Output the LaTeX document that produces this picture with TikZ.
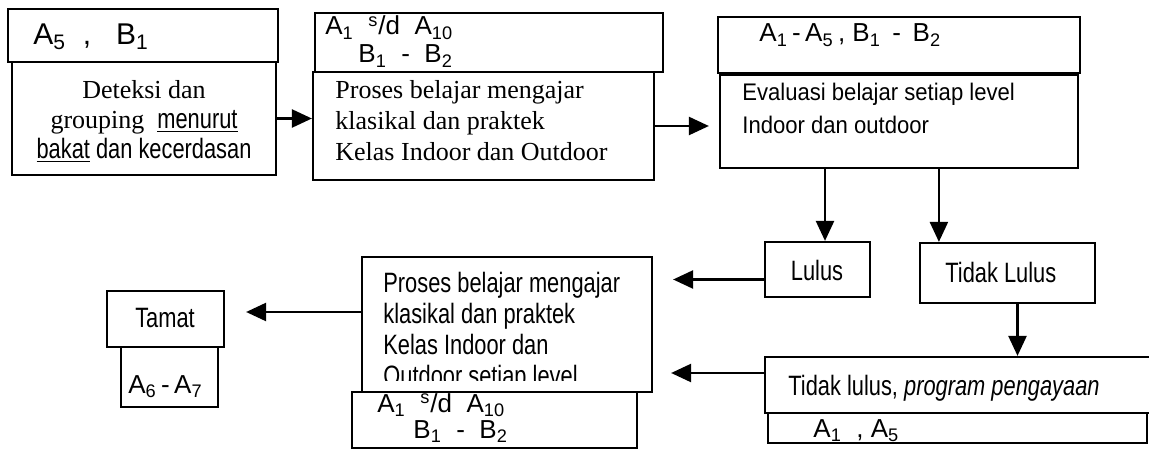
\documentclass[tikz,border=0pt]{standalone}
\usepackage{fontspec}
\setmainfont{Liberation Serif}
\setsansfont{Liberation Sans}
\newfontfamily\narsans{Liberation Sans}[FakeStretch=0.78]
\newfontfamily\evsans{Liberation Sans}[FakeStretch=0.92]
\newfontfamily\handfont{Liberation Sans}
\usetikzlibrary{arrows.meta,fit}
\newcommand\myNar{\narsans\fontsize{14}{15}\selectfont}
\begin{document}
\begin{tikzpicture}[x=0.5pt,y=-0.5pt,
  boxs/.style={draw,line width=1.1pt,inner sep=0pt},
  arr/.style={line width=1.2pt,-{Triangle[length=10pt,width=9pt]}},
  lbl/.style={inner sep=0pt,font=\handfont\fontsize{13}{15}\selectfont},
  txt/.style={inner sep=0pt,align=left}]
\clip (0,0) rectangle (1149,454);
% boxes
\node[boxs,fit={(8,9)(278,62)}] (b1lab) {};
\node[boxs,fit={(12,62)(276,175)}] (b1) {};
\node[boxs,fit={(315,13)(663,72)}] (b2lab) {};
\node[boxs,fit={(313,72)(654,180)}] (b2) {};
\node[boxs,fit={(718,17)(1080,73)}] (b3lab) {};
\node[boxs,fit={(720,75)(1078,168)}] (b3) {};
\node[boxs,fit={(765,242)(870,297)}] (lulus) {};
\node[boxs,fit={(920,243)(1095,303)}] (tl) {};
\node[boxs,fit={(765,357)(1170,413)}] (tlp) {};
\node[boxs,fit={(768,413)(1147,443)}] (tlplab) {};
\node[boxs,fit={(362,257)(652,392)}] (mid) {};
\node[boxs,fit={(352,392)(637,448)}] (midlab) {};
\node[boxs,fit={(107,291)(224,347)}] (tamat) {};
\node[boxs,fit={(121,347)(218,407)}] (tamatlab) {};
% texts
\node[txt,align=center,anchor=north,font=\fontsize{13}{15}\selectfont] (t1) at (144,80)
  {Deteksi dan\\grouping\ \ {\myNar\underline{menurut}}\\{\myNar\underline{bakat} dan kecerdasan}};
\node[txt,anchor=north west,font=\fontsize{13}{15.5}\selectfont] (t2) at (335,80)
  {Proses belajar mengajar\\klasikal dan praktek\\Kelas Indoor dan Outdoor};
\node[txt,anchor=north west,font=\evsans\fontsize{12}{16.5}\selectfont] (t3) at (742,83)
  {Evaluasi belajar setiap level\\Indoor dan outdoor};
\begin{scope}
\clip (362,257) rectangle (652,380);
\node[txt,anchor=north west,font=\narsans\fontsize{14}{15.5}\selectfont] (t4) at (383,272)
  {Proses belajar mengajar\\klasikal dan praktek\\Kelas Indoor dan\\Outdoor setiap level};
\end{scope}
\node[inner sep=0pt,font=\myNar] (t5) at (165,318) {Tamat};
\node[inner sep=0pt,font=\myNar] (t6) at (817,270) {Lulus};
\node[inner sep=0pt,anchor=west,font=\myNar] (t7) at (945,272) {Tidak Lulus};
\node[inner sep=0pt,anchor=base west,font=\myNar] (t8) at (788,395) {Tidak lulus, \textit{program pengayaan}};
% handwritten labels
\node[lbl,anchor=base west,font=\handfont\fontsize{15}{17}\selectfont] (l1) at (33,45) {A\textsubscript{5}\ \ ,\ \ \ B\textsubscript{1}};
\node[lbl,anchor=base west] (l2a) at (325,35) {A\textsubscript{1}\ \ \textsuperscript{s}/d\ \ A\textsubscript{10}};
\node[lbl,anchor=base west] (l2b) at (358,63) {B\textsubscript{1}\ \ -\ \ B\textsubscript{2}};
\node[lbl,anchor=base west] (l3) at (759,42) {A\textsubscript{1}\,-\,A\textsubscript{5}\,,\ B\textsubscript{1}\ \,-\ \,B\textsubscript{2}};
\node[lbl,anchor=base west] (l4a) at (377,412) {A\textsubscript{1}\ \ \textsuperscript{s}/d\ \ A\textsubscript{10}};
\node[lbl,anchor=base west] (l4b) at (413,438) {B\textsubscript{1}\ \ -\ \ B\textsubscript{2}};
\node[lbl,anchor=base west] (l5) at (128,393) {A\textsubscript{6}\,-\,A\textsubscript{7}};
\node[lbl,anchor=base west] (l6) at (813,437) {A\textsubscript{1}\ \ ,\ A\textsubscript{5}};
% arrows
\draw[arr] (b1.east) -- (b1.east -| b2.west);
\draw[arr,shorten >=5pt] (b2.east) -- (b2.east -| b3.west);
\draw[arr] ([xshift=3.75pt]lulus.north |- b3.south) -- ([xshift=3.75pt]lulus.north);
\draw[arr] ([xshift=10pt]tl.north west |- b3.south) -- ([xshift=10pt]tl.north west);
\draw[arr] ([xshift=5pt]tl.south) -- ([xshift=5pt]tl.south |- tlp.north);
\draw[arr,shorten >=10pt] ([yshift=-5pt]lulus.west) -- ([yshift=-5pt]lulus.west -| mid.east);
\draw[arr,shorten >=9pt] ([yshift=6pt]tlp.west) -- ([yshift=6pt]tlp.west -| mid.east);
\draw[arr,shorten >=10.5pt] ([yshift=6.25pt]mid.west) -- ([yshift=6.25pt]mid.west -| tamat.east);
\end{tikzpicture}
\end{document}
